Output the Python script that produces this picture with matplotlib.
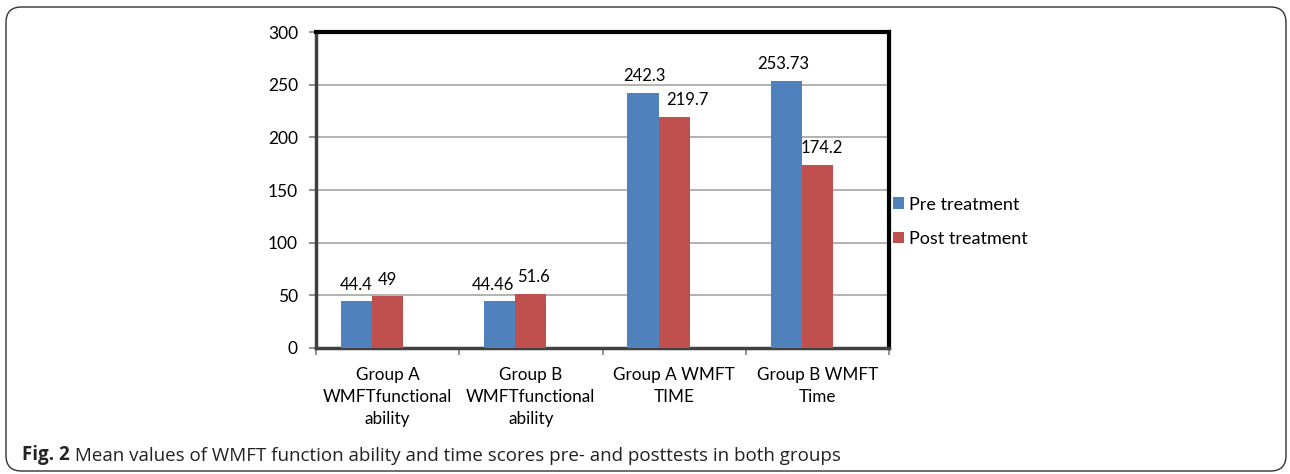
import matplotlib
matplotlib.use("Agg")
import matplotlib.pyplot as plt
import matplotlib.patches as pltpatches
import numpy as np

categories = [
    "Group A\nWMFTfunctional\nability",
    "Group B\nWMFTfunctional\nability",
    "Group A WMFT\nTIME",
    "Group B WMFT\nTime",
]
pre_values = [44.4, 44.46, 242.3, 253.73]
post_values = [49, 51.6, 219.7, 174.2]
pre_labels = ["44.4", "44.46", "242.3", "253.73"]
post_labels = ["49", "51.6", "219.7", "174.2"]
series_names = ["Pre treatment", "Post treatment"]
y_ticks = [0, 50, 100, 150, 200, 250, 300]

BLUE = "#4F81BD"
RED = "#C0504D"
FONT = ["Lato", "DejaVu Sans"]
CAPTION_FONT = ["Open Sans", "DejaVu Sans"]

plt.rcParams["font.family"] = FONT

fig = plt.figure(figsize=(12.9, 4.74), dpi=100)

# outer rounded frame of the figure panel
frame = pltpatches.FancyBboxPatch(
    (6 / 1290, 3 / 474), 1280 / 1290, 464 / 474,
    boxstyle="round,pad=0,rounding_size=0.012",
    transform=fig.transFigure, facecolor="none", edgecolor="#333333",
    linewidth=1.0, mutation_aspect=1290 / 474,
)
fig.patches.append(frame)

ax = fig.add_axes([316 / 1290, 1 - 348 / 474, 573 / 1290, 316 / 474])

x = np.arange(len(categories))
width = 0.218
bars_pre = ax.bar(x - width, pre_values, width, color=BLUE,
                  label=series_names[0], zorder=3)
bars_post = ax.bar(x, post_values, width, color=RED,
                   label=series_names[1], zorder=3)

# labels were nudged by hand in the original chart (pixels)
pre_shift = [0, -7, 1, -3]
post_shift = [0, 3, 13, 4]
for bar, lab, dx in zip(bars_pre, pre_labels, pre_shift):
    ax.annotate(lab, (bar.get_x() + bar.get_width() / 2, bar.get_height()),
                xytext=(dx * 0.72, 6), textcoords="offset points", ha="center",
                va="bottom", fontsize=12)
for bar, lab, dx in zip(bars_post, post_labels, post_shift):
    ax.annotate(lab, (bar.get_x() + bar.get_width() / 2, bar.get_height()),
                xytext=(dx * 0.72, 6), textcoords="offset points", ha="center",
                va="bottom", fontsize=12)

ax.set_xlim(-0.5, len(categories) - 0.5)
ax.set_ylim(0, 300)
ax.set_yticks(y_ticks)
ax.set_yticklabels([str(v) for v in y_ticks], fontsize=12.5)
ax.yaxis.grid(True, color="#A6A6A6", linewidth=1.2, zorder=0)

# category boundaries as ticks, labels in the middle
ax.set_xticks(np.arange(len(categories) + 1) - 0.5)
ax.set_xticklabels([])
ax.set_xticks(x, minor=True)
ax.set_xticklabels(categories, minor=True, fontsize=12.3, linespacing=1.45)
ax.tick_params(axis="x", which="minor", length=0, pad=14)
ax.tick_params(axis="x", which="major", length=5, color="#7F7F7F", width=1.2)
ax.tick_params(axis="y", length=5, color="#7F7F7F", width=1.2, pad=8)

for side in ["top", "right"]:
    ax.spines[side].set_color("black")
    ax.spines[side].set_linewidth(3)
for side in ["left", "bottom"]:
    ax.spines[side].set_color("#404040")
    ax.spines[side].set_linewidth(2.5)

ax.legend(loc="center left", bbox_to_anchor=(0.988, 0.40), frameon=False,
          fontsize=13, handlelength=0.6, handleheight=0.6, handletextpad=0.3,
          labelspacing=1.0, borderaxespad=0.2)

cap = fig.text(22 / 1290, 1 - 460 / 474, "Fig. 2", fontsize=13.5,
               fontweight="bold", family=CAPTION_FONT,
               va="baseline", color="#222222")
ax.annotate(" Mean values of WMFT function ability and time scores pre- and posttests in both groups",
            xy=(1, 0), xycoords=cap, va="bottom", ha="left", fontsize=13.5,
            family=CAPTION_FONT, color="#222222", annotation_clip=False)

fig.savefig("out.png", dpi=100)
